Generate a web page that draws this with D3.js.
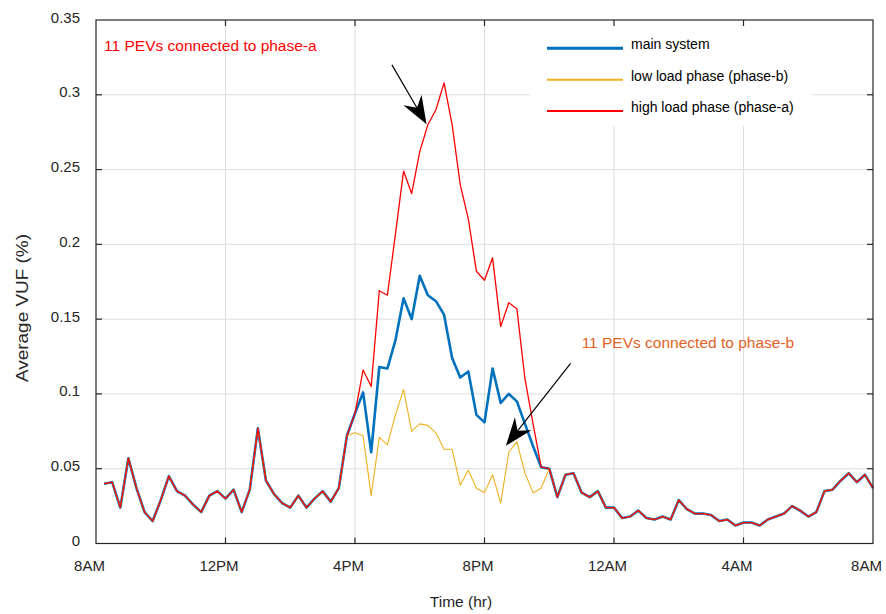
<!DOCTYPE html>
<html>
<head>
<meta charset="utf-8">
<script src="https://cdn.jsdelivr.net/npm/d3@7"></script>
<style>
  body { margin: 0; background: #fff; }
  svg { display: block; font-family: "Liberation Sans", Arial, sans-serif; }
</style>
</head>
<body>
<svg id="chart" width="886" height="614"></svg>
<script>
// =========================
// DADES (llegides del gràfic)
// =========================

// hores: 8AM -> 8AM l'endemà, pas de 15 min (primer punt a les 8:15)
const xTicks = [8, 12, 16, 20, 24, 28, 32];
const xTickLabels = ["8AM", "12PM", "4PM", "8PM", "12AM", "4AM", "8AM"];
const yTicks = [0, 0.05, 0.1, 0.15, 0.2, 0.25, 0.3, 0.35];
const yTickLabels = ["0", "0.05", "0.1", "0.15", "0.2", "0.25", "0.3", "0.35"];

const mainSystem = [
  0.040, 0.041, 0.024, 0.057, 0.037, 0.021, 0.015, 0.029, 0.045, 0.035,
  0.032, 0.026, 0.021, 0.032, 0.035, 0.030, 0.036, 0.021, 0.036, 0.077,
  0.042, 0.033, 0.027, 0.024, 0.032, 0.024, 0.030, 0.035, 0.028, 0.037,
  0.072, 0.087, 0.101, 0.061, 0.118, 0.117, 0.136, 0.164, 0.150, 0.179,
  0.166, 0.162, 0.153, 0.124, 0.111, 0.115, 0.086, 0.081, 0.117, 0.094,
  0.100, 0.095, 0.080, 0.065, 0.051, 0.050, 0.031, 0.046, 0.047, 0.034,
  0.031, 0.035, 0.024, 0.024, 0.017, 0.018, 0.022, 0.017, 0.016, 0.018,
  0.016, 0.029, 0.023, 0.020, 0.020, 0.019, 0.015, 0.016, 0.012, 0.014,
  0.014, 0.012, 0.016, 0.018, 0.020, 0.025, 0.022, 0.018, 0.021, 0.035,
  0.036, 0.042, 0.047, 0.041, 0.046, 0.037
];

const lowLoadPhase = [
  0.040, 0.041, 0.024, 0.057, 0.037, 0.021, 0.015, 0.029, 0.045, 0.035,
  0.032, 0.026, 0.021, 0.032, 0.035, 0.030, 0.036, 0.021, 0.036, 0.077,
  0.042, 0.033, 0.027, 0.024, 0.032, 0.024, 0.030, 0.035, 0.028, 0.037,
  0.072, 0.074, 0.072, 0.032, 0.071, 0.066, 0.086, 0.103, 0.075, 0.080,
  0.079, 0.074, 0.063, 0.063, 0.039, 0.049, 0.037, 0.034, 0.046, 0.027,
  0.061, 0.068, 0.047, 0.034, 0.037, 0.050, 0.031, 0.046, 0.047, 0.034,
  0.031, 0.035, 0.024, 0.024, 0.017, 0.018, 0.022, 0.017, 0.016, 0.018,
  0.016, 0.029, 0.023, 0.020, 0.020, 0.019, 0.015, 0.016, 0.012, 0.014,
  0.014, 0.012, 0.016, 0.018, 0.020, 0.025, 0.022, 0.018, 0.021, 0.035,
  0.036, 0.042, 0.047, 0.041, 0.046, 0.037
];

const highLoadPhase = [
  0.040, 0.041, 0.024, 0.057, 0.037, 0.021, 0.015, 0.029, 0.045, 0.035,
  0.032, 0.026, 0.021, 0.032, 0.035, 0.030, 0.036, 0.021, 0.036, 0.077,
  0.042, 0.033, 0.027, 0.024, 0.032, 0.024, 0.030, 0.035, 0.028, 0.037,
  0.072, 0.087, 0.116, 0.105, 0.169, 0.166, 0.207, 0.249, 0.234, 0.262,
  0.280, 0.290, 0.308, 0.280, 0.240, 0.217, 0.182, 0.176, 0.191, 0.145,
  0.161, 0.157, 0.110, 0.080, 0.051, 0.050, 0.031, 0.046, 0.047, 0.034,
  0.031, 0.035, 0.024, 0.024, 0.017, 0.018, 0.022, 0.017, 0.016, 0.018,
  0.016, 0.029, 0.023, 0.020, 0.020, 0.019, 0.015, 0.016, 0.012, 0.014,
  0.014, 0.012, 0.016, 0.018, 0.020, 0.025, 0.022, 0.018, 0.021, 0.035,
  0.036, 0.042, 0.047, 0.041, 0.046, 0.037
];

const hours = d3.range(1, mainSystem.length + 1).map(i => 8 + i * 0.25);

const seriesNames = ["main system", "low load phase (phase-b)", "high load phase (phase-a)"];

// anotacions (en unitats de dades: hora, VUF)
const noteTexts = ["11 PEVs connected to phase-a", "11 PEVs connected to phase-b"];
const notePos = [[8.25, 0.329], [23.0, 0.131]];
const arrowTails = [[17.14, 0.320], [22.66, 0.1205]];
const arrowTips = [[18.21, 0.2803], [20.66, 0.0654]];


// =========================
// ESCALES
// =========================

const svg = d3.select("#chart");
const plotLeft = 96, plotRight = 873, plotTop = 20, plotBottom = 543.5;

const x = d3.scaleLinear().domain([8, 32]).range([plotLeft, plotRight]);
const y = d3.scaleLinear().domain([0, 0.35]).range([plotBottom, plotTop]);

const styles = [
  { color: "#0072BD", width: 2.6 },
  { color: "#EDB120", width: 1.1 },
  { color: "#FF0000", width: 1.3 }
];
const allSeries = [mainSystem, lowLoadPhase, highLoadPhase];


// =========================
// GRAELLA
// =========================

const grid = svg.append("g").attr("stroke", "#dedede").attr("stroke-width", 1);

grid.selectAll(".gx")
  .data(xTicks.slice(1, -1))
  .enter().append("line")
  .attr("x1", d => x(d)).attr("x2", d => x(d))
  .attr("y1", plotTop).attr("y2", plotBottom);

grid.selectAll(".gy")
  .data(yTicks.slice(1, -1))
  .enter().append("line")
  .attr("x1", plotLeft).attr("x2", plotRight)
  .attr("y1", d => y(d)).attr("y2", d => y(d));


// =========================
// SÈRIES
// =========================

const line = d3.line()
  .x((d, i) => x(hours[i]))
  .y(d => y(d));

allSeries.forEach((s, k) => {
  svg.append("path")
    .datum(s)
    .attr("d", line)
    .attr("fill", "none")
    .attr("stroke", styles[k].color)
    .attr("stroke-width", styles[k].width)
    .attr("stroke-linejoin", "round");
});


// =========================
// LLEGENDA
// =========================

svg.append("rect")
  .attr("x", 530).attr("y", 21)
  .attr("width", 282).attr("height", 105)
  .attr("fill", "#fff");

const legend = svg.append("g").attr("transform", "translate(547, 48.3)");

seriesNames.forEach((name, k) => {
  const g = legend.append("g").attr("transform", `translate(0, ${k * 31.4})`);
  g.append("line")
    .attr("x1", 0).attr("x2", 76)
    .attr("stroke", styles[k].color)
    .attr("stroke-width", k === 0 ? 3 : 2);
  g.append("text")
    .attr("x", 84).attr("y", 1)
    .text(name)
    .style("font-size", "14px")
    .style("fill", "#000");
});


// =========================
// EIXOS
// =========================

const axis = svg.append("g").attr("stroke", "#262626").attr("stroke-width", 1.2);

axis.append("rect")
  .attr("x", plotLeft).attr("y", plotTop)
  .attr("width", plotRight - plotLeft).attr("height", plotBottom - plotTop)
  .attr("fill", "none");

const tickLen = 6;

xTicks.slice(1, -1).forEach(t => {
  axis.append("line").attr("x1", x(t)).attr("x2", x(t)).attr("y1", plotBottom).attr("y2", plotBottom - tickLen);
  axis.append("line").attr("x1", x(t)).attr("x2", x(t)).attr("y1", plotTop).attr("y2", plotTop + tickLen);
});
yTicks.slice(1, -1).forEach(t => {
  axis.append("line").attr("x1", plotLeft).attr("x2", plotLeft + tickLen).attr("y1", y(t)).attr("y2", y(t));
  axis.append("line").attr("x1", plotRight).attr("x2", plotRight - tickLen).attr("y1", y(t)).attr("y2", y(t));
});

svg.selectAll(".xlab")
  .data(xTicks)
  .enter().append("text")
  .attr("x", d => x(d) - 6.5)
  .attr("y", plotBottom + 27)
  .attr("text-anchor", "middle")
  .text((d, i) => xTickLabels[i])
  .style("font-size", "15px")
  .style("fill", "#262626");

svg.selectAll(".ylab")
  .data(yTicks)
  .enter().append("text")
  .attr("x", 80)
  .attr("y", d => y(d) + 2.5)
  .attr("text-anchor", "end")
  .text((d, i) => yTickLabels[i])
  .style("font-size", "15px")
  .style("fill", "#262626");

svg.append("text")
  .attr("x", 461).attr("y", 607)
  .attr("text-anchor", "middle")
  .text("Time (hr)")
  .style("font-size", "15.5px")
  .style("fill", "#262626");

svg.append("text")
  .attr("transform", "translate(28, 308) rotate(-90)")
  .attr("text-anchor", "middle")
  .attr("textLength", 148)
  .attr("lengthAdjust", "spacingAndGlyphs")
  .text("Average VUF (%)")
  .style("font-size", "16.5px")
  .style("fill", "#262626");


// =========================
// ANOTACIONS
// =========================

const noteColors = ["#FF0000", "#E2621F"];

noteTexts.forEach((t, i) => {
  svg.append("text")
    .attr("x", x(notePos[i][0]))
    .attr("y", y(notePos[i][1]))
    .text(t)
    .style("font-size", "15.5px")
    .style("fill", noteColors[i]);
});

function drawArrow(tail, tip) {
  const x0 = x(tail[0]), y0 = y(tail[1]);
  const x1 = x(tip[0]), y1 = y(tip[1]);
  const ang = Math.atan2(y1 - y0, x1 - x0) * 180 / Math.PI;
  const len = Math.hypot(x1 - x0, y1 - y0);

  const g = svg.append("g")
    .attr("transform", `translate(${x1}, ${y1}) rotate(${ang})`);

  g.append("line")
    .attr("x1", -len).attr("y1", 0)
    .attr("x2", -18).attr("y2", 0)
    .attr("stroke", "#000")
    .attr("stroke-width", 1.2);

  g.append("path")
    .attr("d", "M0,0 L-28,-10.5 L-19,0 L-28,10.5 Z")
    .attr("fill", "#000");
}

arrowTails.forEach((t, i) => drawArrow(t, arrowTips[i]));
</script>
</body>
</html>
